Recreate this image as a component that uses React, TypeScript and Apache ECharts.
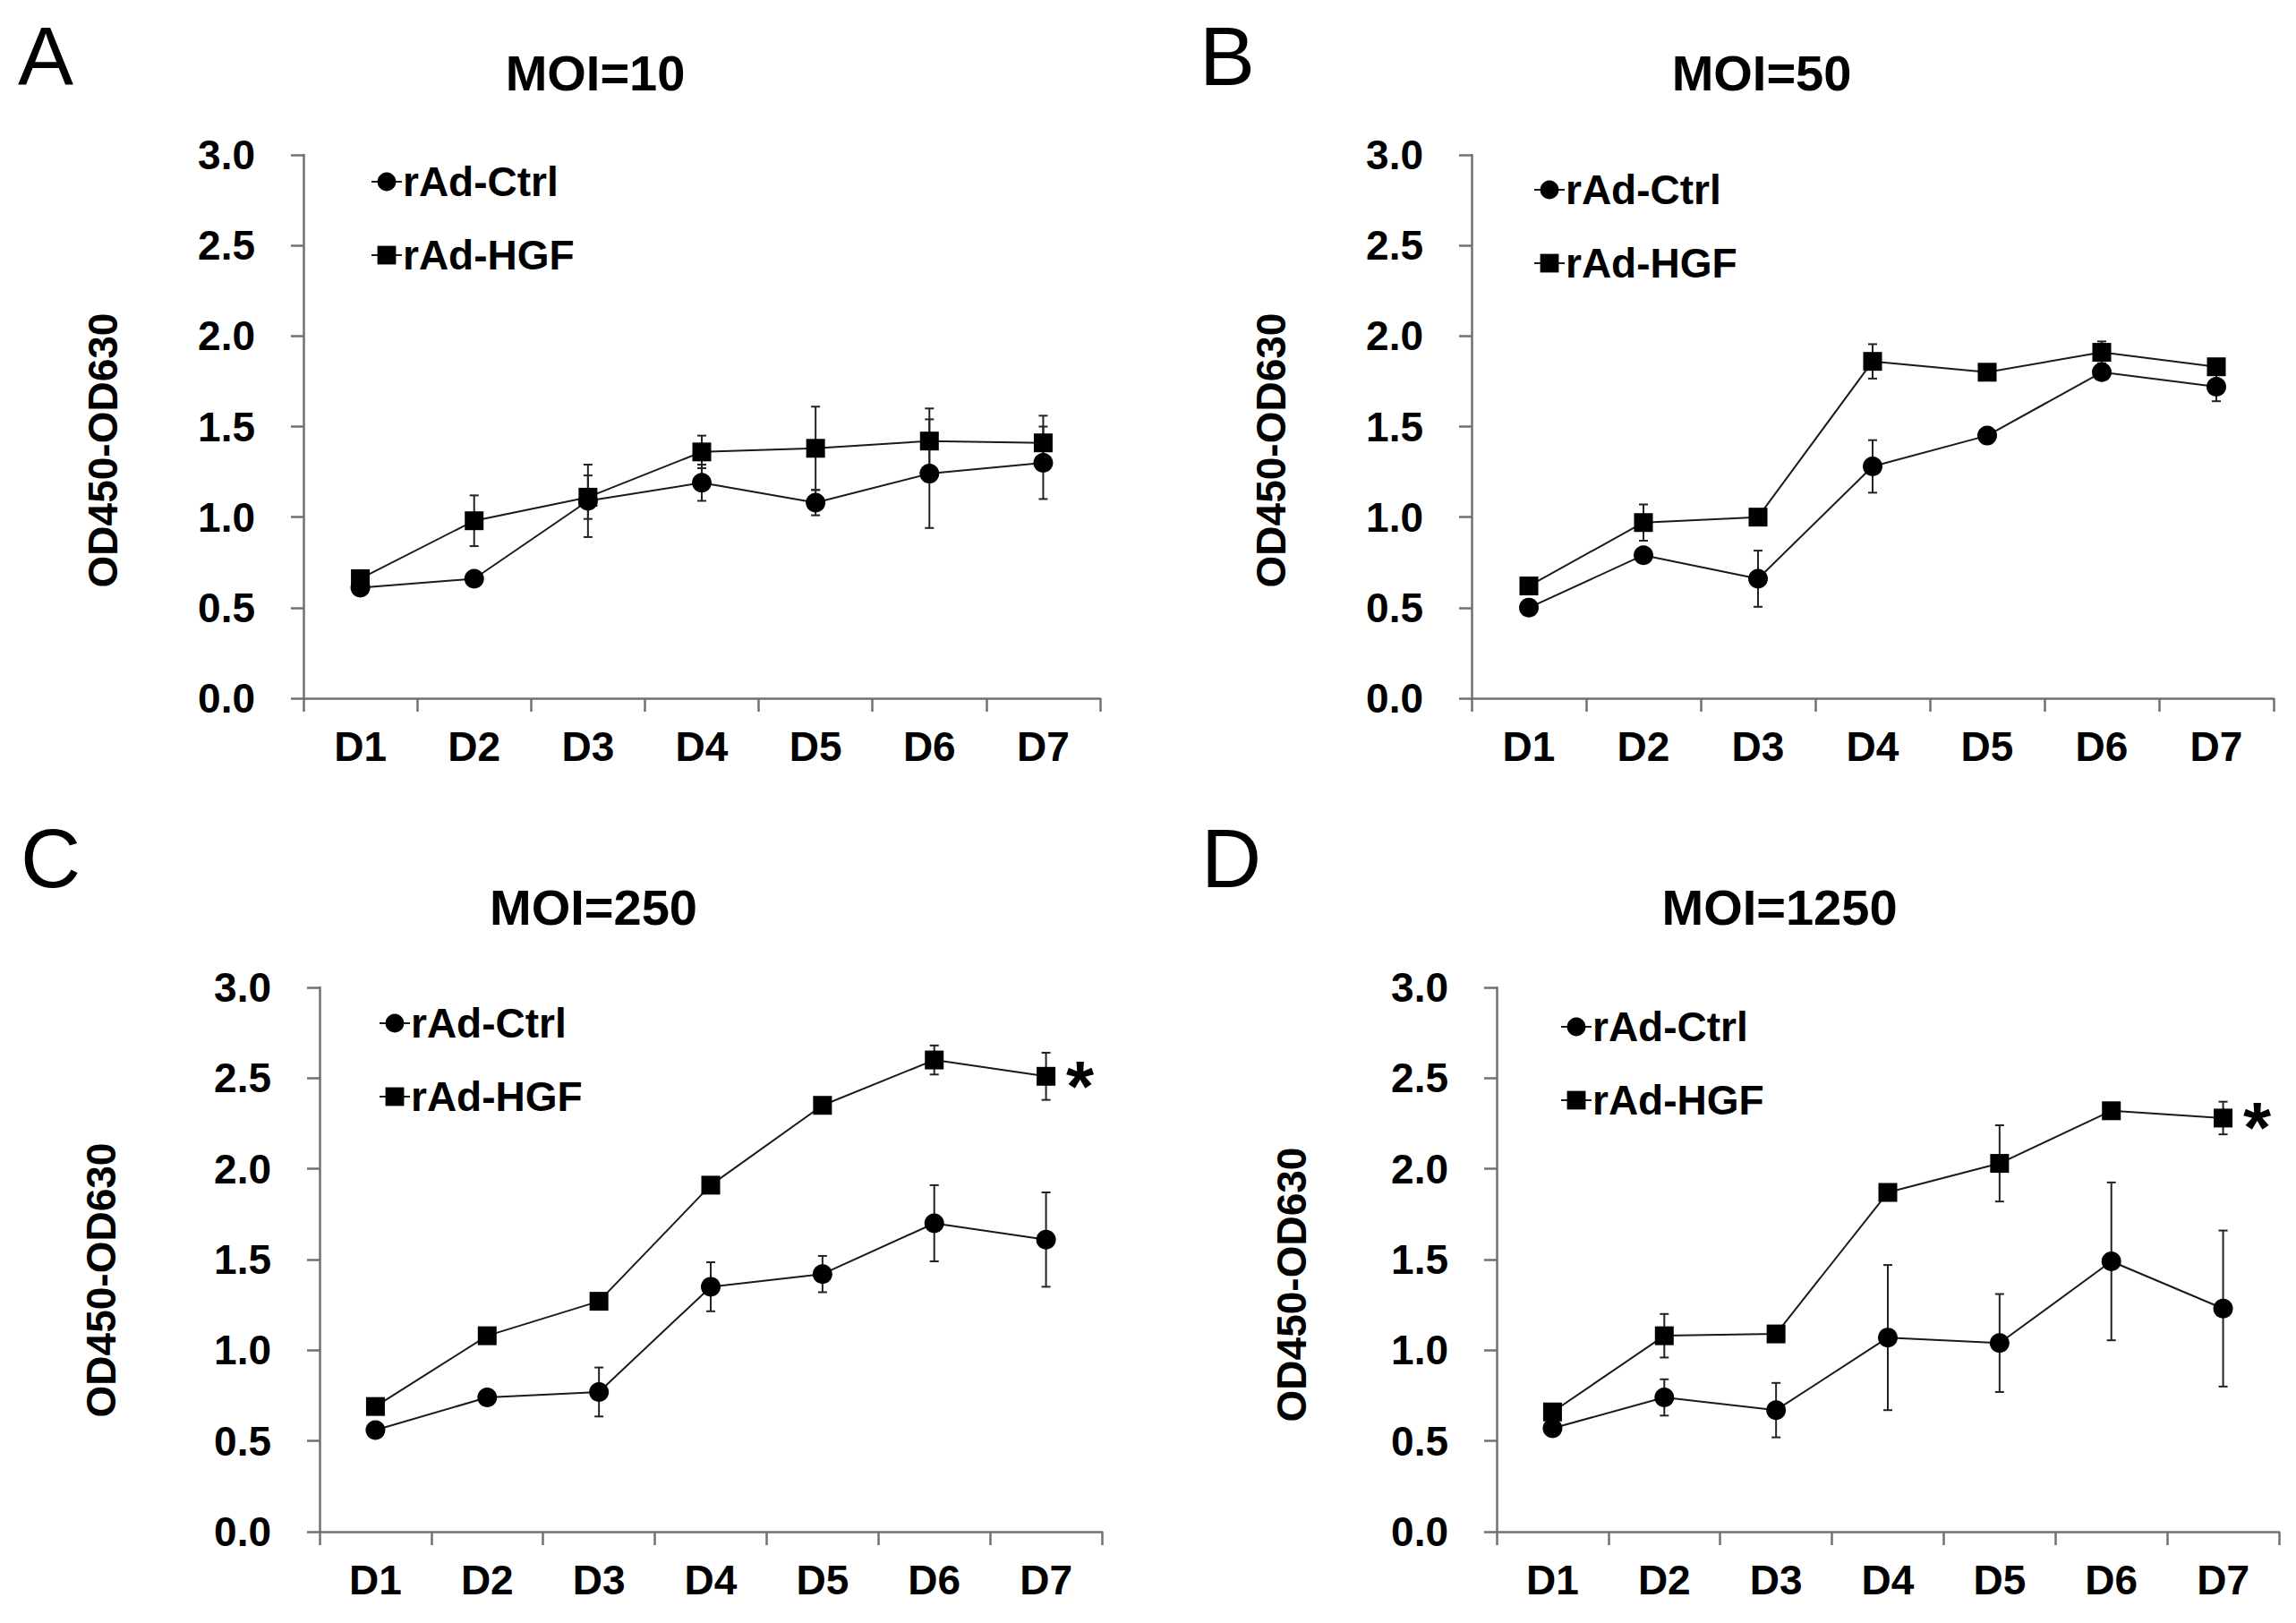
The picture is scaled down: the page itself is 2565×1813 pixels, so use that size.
import React, { useEffect, useRef } from 'react';
import * as echarts from 'echarts';

const days = ['D1', 'D2', 'D3', 'D4', 'D5', 'D6', 'D7'];
const seriesNames = ['rAd-Ctrl', 'rAd-HGF'];
const panelLetters = ['A', 'B', 'C', 'D'];
const panelTitles = ['MOI=10', 'MOI=50', 'MOI=250', 'MOI=1250'];
const yAxisTitle = 'OD450-OD630';
const yMin = 0;
const yMax = 3;
const yStep = 0.5;

// Panel A: MOI=10
const ctrlA = [0.61, 0.66, 1.09, 1.19, 1.08, 1.24, 1.3];
const ctrlAErr = [0.02, 0.02, 0.2, 0.1, 0.07, 0.3, 0.2];
const hgfA = [0.66, 0.98, 1.11, 1.36, 1.38, 1.42, 1.41];
const hgfAErr = [0.03, 0.14, 0.12, 0.09, 0.23, 0.18, 0.15];

// Panel B: MOI=50
const ctrlB = [0.5, 0.79, 0.66, 1.28, 1.45, 1.8, 1.72];
const ctrlBErr = [0.02, 0.03, 0.155, 0.145, 0.04, 0.03, 0.08];
const hgfB = [0.62, 0.97, 1.0, 1.86, 1.8, 1.91, 1.83];
const hgfBErr = [0.02, 0.1, 0.02, 0.095, 0.02, 0.06, 0.03];

// Panel C: MOI=250
const ctrlC = [0.56, 0.74, 0.77, 1.35, 1.42, 1.7, 1.61];
const ctrlCErr = [0.02, 0.02, 0.135, 0.135, 0.1, 0.21, 0.26];
const hgfC = [0.69, 1.08, 1.27, 1.91, 2.35, 2.6, 2.51];
const hgfCErr = [0.02, 0.02, 0.03, 0.04, 0.04, 0.08, 0.13];

// Panel D: MOI=1250
const ctrlD = [0.57, 0.74, 0.67, 1.07, 1.04, 1.49, 1.23];
const ctrlDErr = [0.02, 0.1, 0.15, 0.4, 0.27, 0.435, 0.43];
const hgfD = [0.66, 1.08, 1.09, 1.87, 2.03, 2.32, 2.28];
const hgfDErr = [0.03, 0.12, 0.02, 0.01, 0.21, 0.03, 0.09];

// significance marker at the last day of panels C and D
const significance = ['', '', '*', '*'];

const panelData = [
  { ctrl: ctrlA, ctrlErr: ctrlAErr, hgf: hgfA, hgfErr: hgfAErr },
  { ctrl: ctrlB, ctrlErr: ctrlBErr, hgf: hgfB, hgfErr: hgfBErr },
  { ctrl: ctrlC, ctrlErr: ctrlCErr, hgf: hgfC, hgfErr: hgfCErr },
  { ctrl: ctrlD, ctrlErr: ctrlDErr, hgf: hgfD, hgfErr: hgfDErr },
];

// layout (pixels)
const layouts = [
  { grid: { left: 339, top: 173, width: 890, height: 607 }, letter: [20, 62], title: [665, 81], ytitle: [115, 503], legend: [414, 180] },
  { grid: { left: 1644, top: 173, width: 896, height: 607 }, letter: [1340, 62], title: [1968, 81], ytitle: [1420, 503], legend: [1713, 189] },
  { grid: { left: 357, top: 1103, width: 874, height: 608 }, letter: [23, 958], title: [663, 1013], ytitle: [113, 1430], legend: [423, 1120] },
  { grid: { left: 1672, top: 1103, width: 874, height: 608 }, letter: [1342, 958], title: [1988, 1013], ytitle: [1443, 1435], legend: [1743, 1124] },
];

const FONT = '"Liberation Sans", Arial, Helvetica, sans-serif';
const AXIS_COLOR = '#707070';
const LINE_COLOR = '#1a1a1a';

function errorSeries(idx: number, means: number[], errs: number[]) {
  return {
    type: 'custom',
    xAxisIndex: idx,
    yAxisIndex: idx,
    silent: true,
    z: 1,
    data: means.map((m, i) => [i, m - errs[i], m + errs[i]]),
    encode: { x: 0, y: [1, 2] },
    renderItem: (_params: any, api: any) => {
      const x = api.value(0);
      const lo = api.coord([x, api.value(1)]);
      const hi = api.coord([x, api.value(2)]);
      const w = 5;
      const style = { stroke: '#222', lineWidth: 2 };
      return {
        type: 'group',
        children: [
          { type: 'line', shape: { x1: lo[0], y1: lo[1], x2: hi[0], y2: hi[1] }, style },
          { type: 'line', shape: { x1: lo[0] - w, y1: lo[1], x2: lo[0] + w, y2: lo[1] }, style },
          { type: 'line', shape: { x1: hi[0] - w, y1: hi[1], x2: hi[0] + w, y2: hi[1] }, style },
        ],
      };
    },
  };
}

function lineSeries(idx: number, name: string, values: number[], symbol: string, size: number, mark: string) {
  return {
    type: 'line',
    name,
    xAxisIndex: idx,
    yAxisIndex: idx,
    z: 3,
    data: values.map((v, i) => {
      if (mark && i === values.length - 1) {
        return {
          value: v,
          label: {
            show: true,
            formatter: mark,
            position: 'right',
            distance: 12,
            offset: [0, 11],
            fontSize: 80,
            fontWeight: 'bold',
            fontFamily: FONT,
            color: '#000',
          },
        };
      }
      return v;
    }),
    symbol,
    symbolSize: size,
    showSymbol: true,
    itemStyle: { color: '#000' },
    lineStyle: { color: LINE_COLOR, width: 2 },
    emphasis: { disabled: true },
  };
}

export default function App() {
  const ref = useRef<HTMLDivElement>(null);

  useEffect(() => {
    if (!ref.current) return;
    const chart = echarts.init(ref.current, undefined, { renderer: 'svg' });

    const grids = layouts.map((l) => ({ ...l.grid, containLabel: false }));
    const xAxes = layouts.map((_, i) => ({
      type: 'category',
      gridIndex: i,
      data: days,
      boundaryGap: true,
      axisLine: { show: true, lineStyle: { color: AXIS_COLOR, width: 2.5 } },
      axisTick: { show: true, alignWithLabel: false, length: 15, lineStyle: { color: AXIS_COLOR, width: 2.5 } },
      axisLabel: { margin: 31, fontSize: 46, fontWeight: 'bold', color: '#000', fontFamily: FONT },
      splitLine: { show: false },
    }));
    const yAxes = layouts.map((_, i) => ({
      type: 'value',
      gridIndex: i,
      min: yMin,
      max: yMax,
      interval: yStep,
      axisLine: { show: true, lineStyle: { color: AXIS_COLOR, width: 2.5 } },
      axisTick: { show: true, length: 14, lineStyle: { color: AXIS_COLOR, width: 2.5 } },
      axisLabel: {
        margin: 54,
        fontSize: 46,
        fontWeight: 'bold',
        color: '#000',
        fontFamily: FONT,
        formatter: (v: number) => v.toFixed(1),
      },
      splitLine: { show: false },
    }));

    const series: any[] = [];
    panelData.forEach((p, i) => {
      series.push(errorSeries(i, p.ctrl, p.ctrlErr));
      series.push(errorSeries(i, p.hgf, p.hgfErr));
      series.push(lineSeries(i, seriesNames[0], p.ctrl, 'circle', 22, ''));
      series.push(lineSeries(i, seriesNames[1], p.hgf, 'rect', 21, significance[i]));
    });

    const legends = layouts.map((l) => ({
      orient: 'vertical',
      left: l.legend[0],
      top: l.legend[1],
      padding: 0,
      itemWidth: 34,
      itemHeight: 26,
      itemGap: 36,
      selectedMode: false,
      data: seriesNames,
      textStyle: { fontSize: 46, fontWeight: 'bold', color: '#000', fontFamily: FONT, lineHeight: 46, padding: [0, 0, 0, -4] },
    }));

    const graphics: any[] = [];
    layouts.forEach((l, i) => {
      graphics.push({
        type: 'text',
        left: l.letter[0],
        top: l.letter[1] - 46,
        style: { text: panelLetters[i], fontSize: 93, fontFamily: FONT, fill: '#000' },
      });
      graphics.push({
        type: 'text',
        x: l.title[0],
        y: l.title[1],
        style: { text: panelTitles[i], fontSize: 56, fontWeight: 'bold', fontFamily: FONT, fill: '#000', align: 'center', verticalAlign: 'middle' },
      });
      graphics.push({
        type: 'text',
        x: l.ytitle[0],
        y: l.ytitle[1],
        rotation: Math.PI / 2,
        style: { text: yAxisTitle, fontSize: 46, fontWeight: 'bold', fontFamily: FONT, fill: '#000', align: 'center', verticalAlign: 'middle' },
      });
    });

    chart.setOption({
      animation: false,
      backgroundColor: '#fff',
      grid: grids,
      xAxis: xAxes,
      yAxis: yAxes,
      legend: legends,
      series,
      graphic: graphics,
    });

    return () => chart.dispose();
  }, []);

  return <div ref={ref} style={{ position: 'absolute', left: 0, top: 0, width: 2565, height: 1813, background: '#fff' }} />;
}
